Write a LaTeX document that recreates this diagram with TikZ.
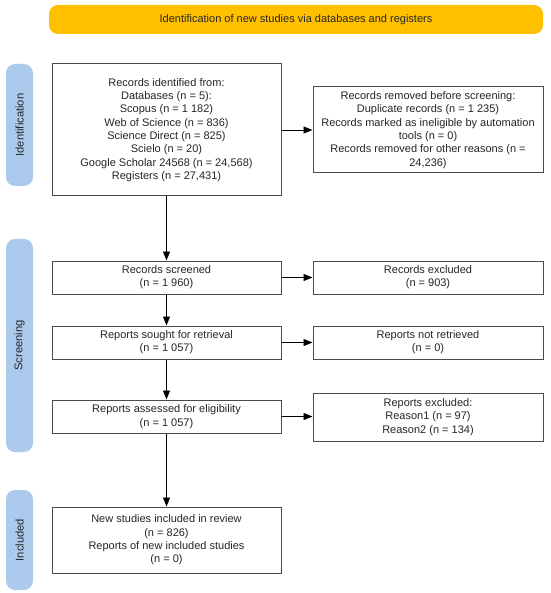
\documentclass[tikz,border=0pt]{standalone}
\usepackage{fontspec}
\setmainfont{Liberation Sans}
\usetikzlibrary{arrows.meta}
\definecolor{bannerc}{RGB}{255,192,0}
\definecolor{sidec}{RGB}{171,202,236}
\definecolor{boxline}{RGB}{75,75,75}
\tikzset{
  box/.style={draw=boxline, line width=1pt, fill=white, align=center, inner sep=2pt,
    font=\fontsize{11}{13.3}\selectfont, text=black!85},
  side/.style={fill=sidec, rounded corners=9pt, minimum width=27pt, inner sep=0pt},
  sidelabel/.style={rotate=90, font=\fontsize{11.2}{12}\selectfont, text=black!85},
  arr/.style={-{Triangle[length=9pt,width=7pt]}, line width=0.9pt, black}
}
\begin{document}
\begin{tikzpicture}[x=1pt,y=-1pt]
\useasboundingbox (0,0) rectangle (550,593);
% banner
\node[fill=bannerc, rounded corners=9pt, minimum width=494pt, minimum height=29pt, inner sep=0pt,
  font=\fontsize{11}{12}\selectfont, text=black!85] (banner) at (296,19.5)
  {Identification of new studies via databases and registers};
% side bars
\node[side, minimum height=122pt] (sid) at (19.5,125) {};
\node[sidelabel] (sidt) at (sid.center) {Identification};
\node[side, minimum height=213pt] (sscr) at (19.5,345.5) {};
\node[sidelabel] (sscrt) at (sscr.center) {Screening};
\node[side, minimum height=100pt] (sinc) at (19.5,540) {};
\node[sidelabel] (sinct) at (sinc.center) {Included};
% left column
\node[box, minimum width=229pt, minimum height=132pt] (b1) at (166.5,130)
  {Records identified from:\\Databases (n = 5):\\Scopus (n = 1 182)\\Web of Science (n = 836)\\Science Direct (n = 825)\\Scielo (n = 20)\\Google Scholar 24568 (n = 24,568)\\Registers (n = 27,431)};
\node[box, minimum width=229pt, minimum height=33pt] (b2) at (166.5,277.5)
  {Records screened\\(n = 1 960)};
\node[box, minimum width=229pt, minimum height=33pt] (b3) at (166.5,342.5)
  {Reports sought for retrieval\\(n = 1 057)};
\node[box, minimum width=229pt, minimum height=33pt] (b4) at (166.5,416.5)
  {Reports assessed for eligibility\\(n = 1 057)};
\node[box, minimum width=229pt, minimum height=66pt] (b5) at (166.5,540)
  {New studies included in review\\(n = 826)\\Reports of new included studies\\(n = 0)};
% right column
\node[box, minimum width=230pt, minimum height=86pt] (r1) at (428,130)
  {Records removed before screening:\\Duplicate records (n = 1 235)\\Records marked as ineligible by automation\\tools (n = 0)\\Records removed for other reasons (n =\\24,236)};
\node[box, minimum width=230pt, minimum height=33pt] (r2) at (428,277.5)
  {Records excluded\\(n = 903)};
\node[box, minimum width=230pt, minimum height=33pt] (r3) at (428,342.5)
  {Reports not retrieved\\(n = 0)};
\node[box, minimum width=230pt, minimum height=48pt] (r4) at (428,417)
  {Reports excluded:\\Reason1 (n = 97)\\Reason2 (n = 134)};
% arrows
\draw[arr] (b1) -- (r1);
\draw[arr] (b1) -- (b2);
\draw[arr] (b2) -- (r2);
\draw[arr] (b2) -- (b3);
\draw[arr] (b3) -- (r3);
\draw[arr] (b3) -- (b4);
\draw[arr] (b4.east) -- (b4.east -| r4.west);
\draw[arr] (b4) -- (b5);
\end{tikzpicture}
\end{document}
